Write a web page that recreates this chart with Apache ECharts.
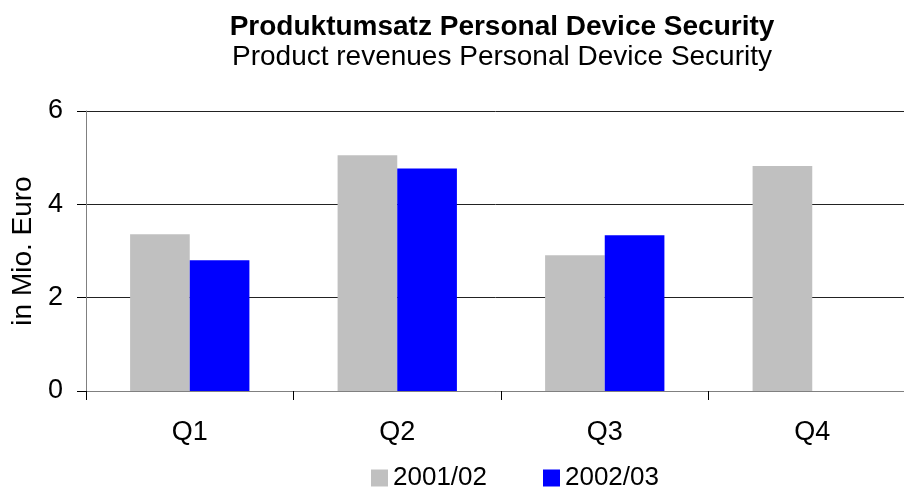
<!DOCTYPE html>
<html>
<head>
<meta charset="utf-8">
<script src="https://cdn.jsdelivr.net/npm/echarts@6/dist/echarts.min.js"></script>
<style>
html, body { margin: 0; padding: 0; background: #fff; }
#chart { width: 904px; height: 488px; }
</style>
</head>
<body>
<div id="chart"></div>
<script>
const quarters = ['Q1', 'Q2', 'Q3', 'Q4']
const rev2001 = [3.36, 5.05, 2.91, 4.82]
const rev2002 = [2.8, 4.77, 3.34, null]
const seriesNames = ['2001/02', '2002/03']

const font = 'Liberation Sans, Arial, sans-serif'

let chart = echarts.init(document.getElementById('chart'))
let option = {
    animation: false,
    textStyle: { fontFamily: font },
    title: {
        text: 'Produktumsatz Personal Device Security',
        subtext: 'Product revenues Personal Device Security',
        left: 497,
        top: 8,
        textAlign: 'center',
        itemGap: 2,
        textStyle: { fontFamily: font, fontSize: 28, fontWeight: 'bold', color: '#000' },
        subtextStyle: { fontFamily: font, fontSize: 28, color: '#000' }
    },
    legend: {
        data: seriesNames,
        left: 366,
        top: 460,
        itemWidth: 17,
        itemHeight: 17,
        itemGap: 56,
        icon: 'rect',
        textStyle: { fontFamily: font, fontSize: 26, color: '#000' }
    },
    grid: {
        left: 86,
        right: -12,
        top: 111,
        bottom: 97,
        outerBoundsMode: 'none'
    },
    xAxis: {
        type: 'category',
        data: quarters,
        axisLine: { lineStyle: { color: '#808080', width: 1 } },
        axisTick: { show: true, length: 9, lineStyle: { color: '#000' } },
        axisLabel: { fontFamily: font, fontSize: 27, color: '#000', margin: 28 }
    },
    yAxis: {
        type: 'value',
        min: 0,
        max: 6,
        interval: 2,
        name: 'in Mio. Euro',
        nameLocation: 'middle',
        nameGap: 49,
        nameTextStyle: { fontFamily: font, fontSize: 28, color: '#000' },
        axisLine: { show: true, lineStyle: { color: '#808080' } },
        axisTick: { show: true, length: 9, lineStyle: { color: '#000' } },
        axisLabel: { fontFamily: font, fontSize: 27, color: '#000', margin: 23 },
        splitLine: { lineStyle: { color: '#222', width: 1 } }
    },
    series: [
        {
            name: seriesNames[0],
            type: 'bar',
            data: rev2001,
            itemStyle: { color: '#c0c0c0' },
            barGap: '0%',
            barCategoryGap: '42.5%'
        },
        {
            name: seriesNames[1],
            type: 'bar',
            data: rev2002,
            itemStyle: { color: '#0000ff' }
        }
    ]
}
chart.setOption(option)
</script>
</body>
</html>
